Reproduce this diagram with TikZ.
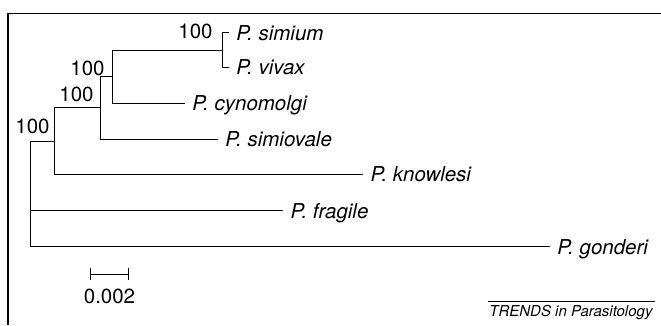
\documentclass[tikz,border=0pt]{standalone}
\usepackage{fontspec}
\setsansfont{TeX Gyre Heros}
\usetikzlibrary{arrows.meta}
\begin{document}
\begin{tikzpicture}[x=1pt,y=-1pt,line width=0.8pt,
  taxon/.style={anchor=base west,inner sep=0pt,xshift=7pt,yshift=-7.3pt,font=\sffamily\itshape\fontsize{20.5}{24}\selectfont},
  boot/.style={anchor=base east,inner sep=0pt,font=\sffamily\fontsize{20.5}{24}\selectfont},
  scalebar/.style={{Bar[width=12.6pt]}-{Bar[width=12.6pt]}}]
\useasboundingbox (0,0) rectangle (661,325);
\coordinate (fBL) at (8,325);\coordinate (fTR) at (661,13.3);
\draw[line width=1.4pt] (fBL) |- (fTR);
\coordinate (root) at (30.7,194);
\coordinate (nA) at (54.3,141.7);
\coordinate (nB) at (100,107.7);
\coordinate (nC) at (112.3,76.7);
\coordinate (nD) at (222.7,50);
\coordinate (tSim) at (229,32.7);
\coordinate (tViv) at (229,67.3);
\coordinate (tCyn) at (185,103.3);
\coordinate (tSov) at (218,139);
\coordinate (tKno) at (363.3,174);
\coordinate (tFra) at (283.3,210.7);
\coordinate (tGon) at (550,246.7);
\draw (root) |- (nA);\draw (root) |- (tFra);\draw (root) |- (tGon);
\draw (nA) |- (nB);\draw (nA) |- (tKno);
\draw (nB) |- (nC);\draw (nB) |- (tSov);
\draw (nC) |- (nD);\draw (nC) |- (tCyn);
\draw (nD) |- (tSim);\draw (nD) |- (tViv);
\node[taxon] (sim) at (tSim) {P. simium};
\node[taxon] (viv) at (tViv) {P. vivax};
\node[taxon] (cyn) at (tCyn) {P. cynomolgi};
\node[taxon] (sov) at (tSov) {P. simiovale};
\node[taxon] (kno) at (tKno) {P. knowlesi};
\node[taxon] (fra) at (tFra) {P. fragile};
\node[taxon] (gon) at (tGon) {P. gonderi};
\node[boot] (bD) at (213,38) {100};
\node[boot] (bC) at (105,75) {100};
\node[boot] (bB) at (94,101) {100};
\node[boot] (bR) at (50,133) {100};
\coordinate (sbL) at (90,274);\coordinate (sbR) at (129,274);
\draw[scalebar] (sbL) -- (sbR);
\node[anchor=base,inner sep=0pt,font=\sffamily\fontsize{20.5}{24}\selectfont] (sbT) at (109.5,303) {0.002};
\coordinate (rL) at (488,301.7);\coordinate (rR) at (655,301.7);
\draw[line width=0.7pt] (rL) -- (rR);
\node[anchor=base west,inner sep=0pt,font=\sffamily\itshape\fontsize{15}{18}\selectfont] (src) at (489,316.7) {TRENDS in Parasitology};
\end{tikzpicture}
\end{document}
